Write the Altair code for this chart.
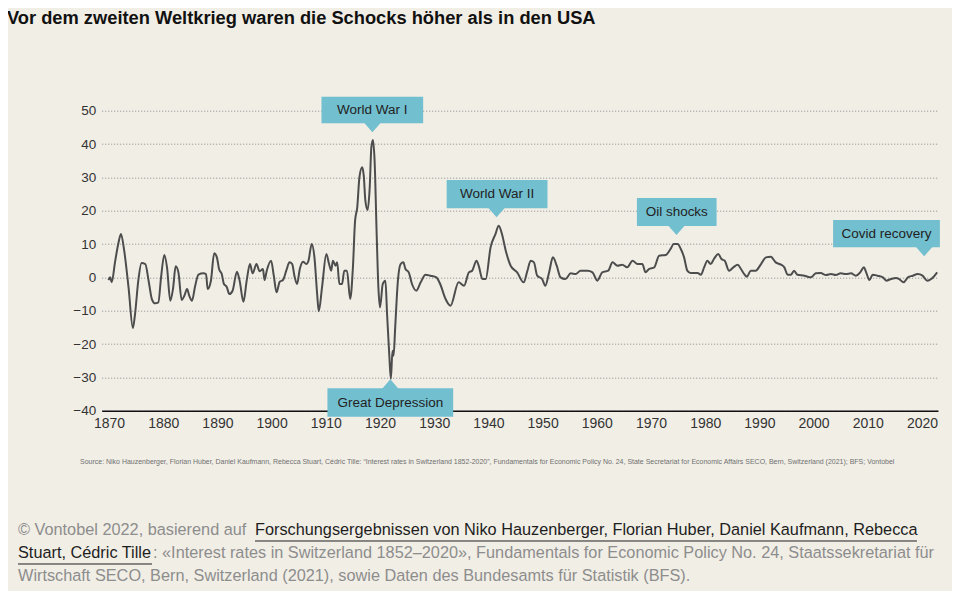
import altair as alt
import pandas as pd

# ---------------- data ----------------
years = [1869.9, 1870.2, 1870.5, 1871.1, 1871.7, 1872.2, 1872.8, 1873.6, 1874.4, 1874.8,
         1875.4, 1876.0, 1876.7, 1877.3, 1877.9, 1878.5, 1879.1, 1879.6, 1880.2, 1880.7,
         1881.3, 1881.8, 1882.3, 1882.8, 1883.4, 1883.9, 1884.4, 1884.8, 1885.3, 1885.9,
         1886.5, 1887.4, 1887.9, 1888.2, 1888.8, 1889.4, 1889.9, 1890.3, 1890.8, 1891.2,
         1891.7, 1892.2, 1892.8, 1893.6, 1894.1, 1894.8, 1895.4, 1896.0, 1896.5, 1897.2,
         1897.8, 1898.4, 1898.7, 1899.1, 1899.9, 1900.4, 1900.9, 1901.5, 1902.1, 1902.7,
         1903.3, 1903.8, 1904.2, 1904.7, 1905.2, 1905.8, 1906.4, 1906.8, 1907.4, 1907.9,
         1908.4, 1908.7, 1909.3, 1910.1, 1910.6, 1911.0, 1911.3, 1911.8, 1912.1, 1912.5,
         1913.0, 1913.4, 1913.9, 1914.5, 1915.0, 1915.4, 1915.8, 1916.2, 1916.7, 1917.0,
         1917.3, 1917.7, 1918.1, 1918.4, 1918.7, 1919.0, 1919.4, 1919.7, 1920.0, 1920.5,
         1921.0, 1921.3, 1921.7, 1922.0, 1922.3, 1922.5, 1922.8, 1923.3, 1923.8, 1924.3,
         1924.7, 1925.3, 1925.9, 1926.7, 1927.5, 1928.4, 1929.3, 1930.4, 1931.1, 1932.1,
         1933.0, 1934.5, 1935.5, 1936.4, 1937.0, 1937.8, 1938.2, 1938.9, 1939.5, 1940.4,
         1941.3, 1941.9, 1942.5, 1943.2, 1944.1, 1945.3, 1946.5, 1947.2, 1947.8, 1948.4,
         1949.0, 1949.9, 1950.5, 1951.2, 1951.9, 1952.6, 1953.3, 1954.2, 1955.2, 1956.1,
         1957.0, 1958.3, 1959.2, 1960.1, 1961.0, 1962.1, 1962.9, 1963.8, 1964.7, 1965.6,
         1966.6, 1967.5, 1968.4, 1969.0, 1969.6, 1970.6, 1971.5, 1972.7, 1973.6, 1974.2,
         1974.9, 1975.5, 1976.1, 1976.7, 1977.3, 1978.6, 1979.2, 1979.8, 1980.4, 1981.0,
         1981.6, 1982.4, 1983.0, 1983.6, 1984.4, 1985.2, 1986.0, 1986.6, 1987.2, 1987.7,
         1988.4, 1989.3, 1990.3, 1991.2, 1992.1, 1993.0, 1994.0, 1994.6, 1995.2, 1995.8,
         1996.4, 1997.0, 1998.3, 1999.5, 2000.4, 2001.3, 2002.3, 2003.2, 2004.1, 2005.0,
         2006.0, 2006.9, 2007.8, 2008.6, 2009.3, 2009.7, 2010.3, 2010.9, 2011.8, 2012.8,
         2013.4, 2014.3, 2015.2, 2015.8, 2016.6, 2017.4, 2018.3, 2019.2, 2020.1, 2021.0,
         2021.7, 2022.8]
values = [-0.8, 0.0, -1.5, 4.5, 10.0, 13.0, 8.0, -3.0, -15.2, -11.0,
          -1.0, 4.3, 4.0, -1.0, -6.5, -7.8, -7.5, 0.0, 6.7, 3.0,
          -7.0, -3.5, 3.3, 1.5, -6.8, -5.5, -3.5, -5.5, -7.0, -2.5,
          0.8, 1.2, 1.0, -3.5, -1.0, 7.2, 6.0, 2.5, 1.0, -2.0,
          -2.8, -5.0, -4.0, 1.7, -1.0, -7.3, -1.0, 4.0, 1.2, 4.0,
          1.8, 2.5, -0.8, 2.0, 5.0, 0.5, -4.5, -1.3, -0.8, 2.0,
          4.5, 4.0, 0.5, -2.0, 2.5, 4.7, 4.0, 5.0, 10.0, 6.0,
          -5.0, -10.2, -3.0, 7.0, 4.0, 2.0, 5.0, 3.5, 4.5, -2.0,
          -2.0, 2.0, 2.0, -6.5, 3.0, 17.0, 21.0, 30.0, 33.0, 30.5,
          23.0, 20.2, 27.0, 39.0, 41.2, 35.0, 12.0, -3.0, -9.0, -2.0,
          -1.0, -11.0, -23.0, -30.5, -22.0, -23.5, -15.0, -1.0, 4.0, 4.5,
          2.5, 1.5, -2.0, -4.0, -1.5, 0.8, 0.5, 0.0, -2.0, -6.5,
          -8.5, -1.5, -2.5, 1.5, 2.0, 5.0, 3.5, -0.5, -0.5, 9.0,
          13.0, 15.5, 13.0, 8.0, 3.5, 1.5, -1.5, 2.0, 5.0, 4.5,
          0.5, -0.5, -2.5, 1.5, 6.0, 3.5, 0.0, -0.5, 1.2, 1.0,
          2.0, 2.0, 1.5, -1.0, 1.5, 2.0, 4.5, 3.5, 3.8, 3.0,
          5.0, 4.0, 4.0, 1.5, 2.5, 3.0, 6.5, 6.7, 8.5, 10.0,
          10.0, 8.5, 6.0, 2.0, 1.3, 1.3, 0.8, 3.0, 5.0, 4.0,
          5.5, 7.0, 5.5, 5.0, 2.0, 3.0, 3.8, 2.5, 1.0, 0.2,
          2.0, 2.0, 4.0, 6.0, 6.2, 4.5, 3.8, 3.0, 0.8, 0.8,
          2.0, 0.8, 0.5, 0.0, 1.2, 1.3, 0.7, 1.0, 0.7, 1.2,
          1.0, 1.2, 0.5, 1.5, 3.0, 1.5, -0.8, 0.8, 0.5, 0.0,
          -1.0, -0.5, -0.2, -0.5, -1.5, 0.0, 0.5, 1.0, 0.5, -1.0,
          -0.5, 1.5]

x_ticks = [1870, 1880, 1890, 1900, 1910, 1920, 1930, 1940, 1950, 1960, 1970, 1980, 1990, 2000, 2010, 2020]
y_ticks = [-40, -30, -20, -10, 0, 10, 20, 30, 40, 50]

# annotations (callout boxes)
ann_labels = ["World War I", "World War II", "Oil shocks", "Covid recovery", "Great Depression"]
ann_year = [1918.6, 1941.5, 1974.7, 2020.4, 1921.9]
ann_x1 = [1909.2, 1932.3, 1967.4, 2003.6, 1910.3]
ann_x2 = [1927.96, 1950.9, 1982.1, 2023.3, 1933.5]
ann_top = [54.2, 29.2, 23.8, 17.2, -33.3]
ann_bot = [46.2, 20.7, 15.4, 9.0, -41.8]
ann_dir = ["down", "down", "down", "down", "up"]

title_text = "Vor dem zweiten Weltkrieg waren die Schocks höher als in den USA"
source_text = ("Source: Niko Hauzenberger, Florian Huber, Daniel Kaufmann, Rebecca Stuart, Cédric Tille: "
               "\u201cInterest rates in Switzerland 1852-2020\u201d, Fundamentals for Economic Policy No. 24, "
               "State Secretariat for Economic Affairs SECO, Bern, Switzerland (2021); BFS; Vontobel")
foot1_gray = "© Vontobel 2022, basierend auf"
foot1_dark = "Forschungsergebnissen von Niko Hauzenberger, Florian Huber, Daniel Kaufmann, Rebecca"
foot2_dark = "Stuart, Cédric Tille"
foot2_gray = ": «Interest rates in Switzerland 1852–2020», Fundamentals for Economic Policy No. 24, Staatssekretariat für"
foot3_gray = "Wirtschaft SECO, Bern, Switzerland (2021), sowie Daten des Bundesamts für Statistik (BFS)."

# ---------------- chart ----------------
FONT = "Liberation Sans"
BG = "#F1EEE6"
TEAL = "#72BFCF"
W, H = 836.3, 300
PL, PT = 93.7, 102.7

df = pd.DataFrame({"year": years, "value": values})
ann = pd.DataFrame({"label": ann_labels, "year": ann_year, "x1": ann_x1, "x2": ann_x2,
                    "top": ann_top, "bot": ann_bot, "dir": ann_dir})
ann["xm"] = (ann["x1"] + ann["x2"]) / 2
ann["ym"] = (ann["top"] + ann["bot"]) / 2

xscale = alt.Scale(domain=[1868.65, 2022.95], nice=False, zero=False)
yscale = alt.Scale(domain=[-40, 50], nice=False, zero=False)

xaxis = alt.Axis(values=x_ticks, format="d", grid=False, ticks=False, domain=True,
                 domainColor="#111111", domainWidth=1.6, labelFontSize=14, labelColor="#333333",
                 labelFont=FONT, labelPadding=6, labelOverlap=False, title=None)
yaxis = alt.Axis(values=y_ticks, format="d", grid=True, gridDash=[1, 2], gridColor="#8a8a8a",
                 gridWidth=1, ticks=False, domain=False, labelFontSize=13.5, labelColor="#333333",
                 labelFont=FONT, labelPadding=6, labelOverlap=False, title=None)


def X(field):
    return alt.X(field, scale=xscale, axis=xaxis)


def Y(field):
    return alt.Y(field, scale=yscale, axis=yaxis)


line = alt.Chart(df).mark_line(color="#4d4d4d", strokeWidth=2, interpolate="monotone").encode(
    x=X("year:Q"), y=Y("value:Q"))

boxes = alt.Chart(ann).mark_rect(color=TEAL).encode(
    x=X("x1:Q"), x2="x2:Q", y=Y("top:Q"), y2="bot:Q")
ptr_down = alt.Chart(ann).transform_filter(alt.datum.dir == "down").mark_point(
    shape="M-1,-0.15L1,-0.15L0,1Z", filled=True, opacity=1, color=TEAL, size=324, strokeWidth=0
).encode(x=X("year:Q"), y=Y("bot:Q"))
ptr_up = alt.Chart(ann).transform_filter(alt.datum.dir == "up").mark_point(
    shape="M-1,0.15L1,0.15L0,-1Z", filled=True, opacity=1, color=TEAL, size=324, strokeWidth=0
).encode(x=X("year:Q"), y=Y("top:Q"))
ann_text = alt.Chart(ann).mark_text(font=FONT, fontSize=13.5, color="#222222", baseline="middle",
                                    align="center").encode(
    x=X("xm:Q"), y=Y("ym:Q"), text="label:N")


def txt(s, x, y, size, color, weight="normal"):
    return alt.Chart(pd.DataFrame({"t": [s]})).mark_text(
        font=FONT, fontSize=size, color=color, fontWeight=weight, align="left", baseline="middle"
    ).encode(text="t:N", x=alt.value(x), y=alt.value(y))


def ox(px):
    return px - 8 - PL


def oy(py):
    return py - 8 - PT


GRAY = "#8d8d8d"
DARK = "#1e1e1e"
FS = 16.3

title = txt(title_text, ox(7), oy(19), 18.3, "#111111", "bold")
source = txt(source_text, ox(80), oy(462), 7, "#707070")
f1a = txt(foot1_gray, ox(18), oy(530), FS, GRAY)
f1b = txt(foot1_dark, ox(255), oy(530), FS, DARK)
f2a = txt(foot2_dark, ox(18), oy(553), FS, DARK)
f2b = txt(foot2_gray, ox(153), oy(553), FS, GRAY)
f3 = txt(foot3_gray, ox(18), oy(576), FS, GRAY)

ul_df = pd.DataFrame({"k": [0]})
ul1 = alt.Chart(ul_df).mark_rule(color=DARK, strokeWidth=1).encode(
    x=alt.value(ox(255)), x2=alt.value(ox(917)), y=alt.value(oy(541)))
ul2 = alt.Chart(ul_df).mark_rule(color=DARK, strokeWidth=1).encode(
    x=alt.value(ox(18)), x2=alt.value(ox(152)), y=alt.value(oy(564)))

chart = alt.layer(line, boxes, ptr_down, ptr_up, ann_text, title, source,
                  f1a, f1b, f2a, f2b, f3, ul1, ul2).properties(
    width=W, height=H,
    background=BG,
    autosize=alt.AutoSizeParams(type="none"),
    padding={"left": PL, "top": PT, "right": 14, "bottom": 180},
).configure_view(stroke=None)

chart.save("out.html", embed_options={"renderer": "svg", "actions": False})
